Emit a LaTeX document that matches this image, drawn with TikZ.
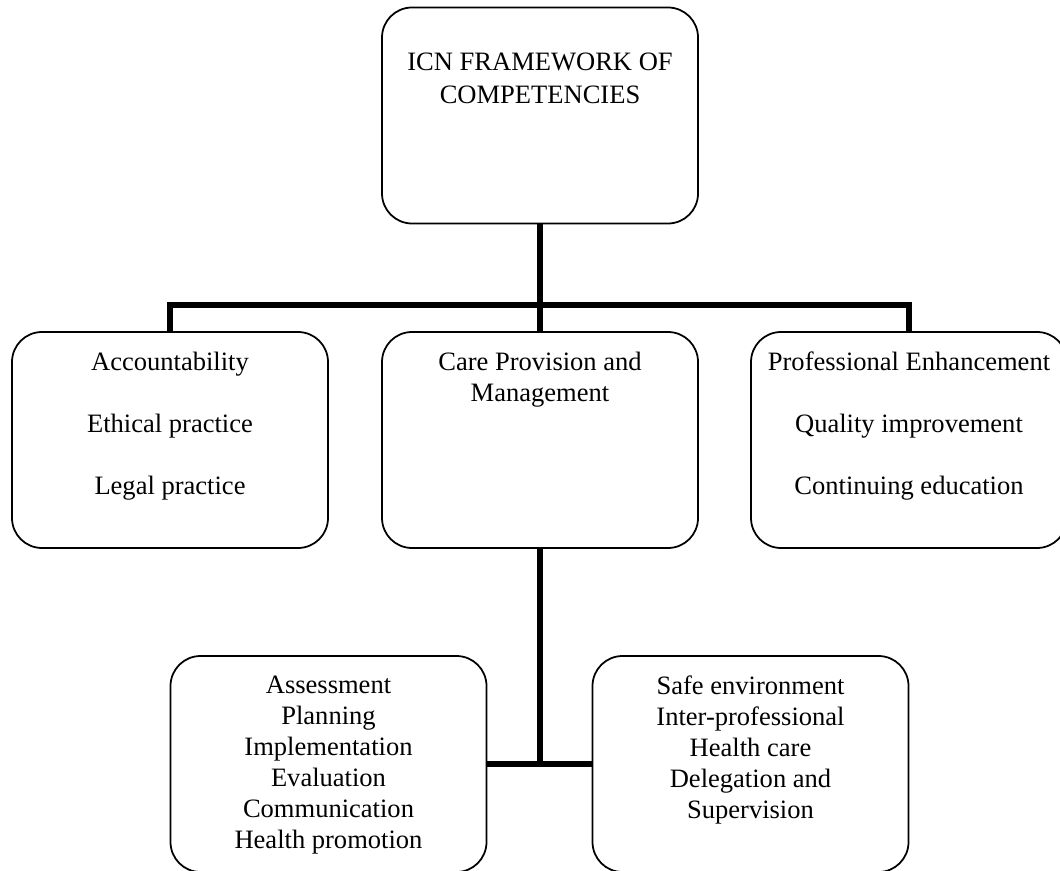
\documentclass[tikz,border=0pt]{standalone}
\usepackage{fontspec}
\setmainfont{Liberation Serif}
\usetikzlibrary{backgrounds}

\newcommand{\boxtext}[1]{\parbox[t][3.52cm][t]{6cm}{\centering #1}}

\begin{document}
\begin{tikzpicture}[background rectangle/.style={fill=white}, show background rectangle, inner frame sep=0pt]
\useasboundingbox (0,0) rectangle (21.2,17.4);
\begin{scope}[every node/.style={draw, line width=1pt, rounded corners=0.6cm,
              minimum width=6.32cm, minimum height=4.32cm,
              inner xsep=0.16cm, inner ysep=0.4cm,
              font=\fontsize{15.1}{17.6}\selectfont}]
  \node (icn) at (10.8,15.09) {\boxtext{\rule{0pt}{7pt}\\ICN FRAMEWORK OF\\[1pt]COMPETENCIES}};
  \node (acc) at (3.4,8.6) {\boxtext{Accountability\\[\baselineskip]Ethical practice\\[\baselineskip]Legal practice}};
  \node (care) at (10.8,8.6) {\boxtext{Care Provision and\\Management}};
  \node (prof) at (18.18,8.6) {\boxtext{Professional Enhancement\\[\baselineskip]Quality improvement\\[\baselineskip]Continuing education}};
  \node (assess) at (6.57,2.12) {\boxtext{Assessment\\Planning\\Implementation\\Evaluation\\Communication\\Health promotion}};
  \node (safe) at (15.01,2.12) {\boxtext{Safe environment\\Inter-professional\\Health care\\Delegation and\\Supervision}};
\end{scope}

\begin{scope}[line width=3pt]
  \coordinate (bus) at (10.8,11.3);
  \draw (icn.south) -- (bus);
  \draw (acc.north) -- (acc.north |- bus) -- (prof.north |- bus) -- (prof.north);
  \draw (care.north) -- (bus);
  \draw (care.south) -- (care.south |- assess.east);
  \draw (assess.east) -- (safe.west);
\end{scope}
\end{tikzpicture}
\end{document}
